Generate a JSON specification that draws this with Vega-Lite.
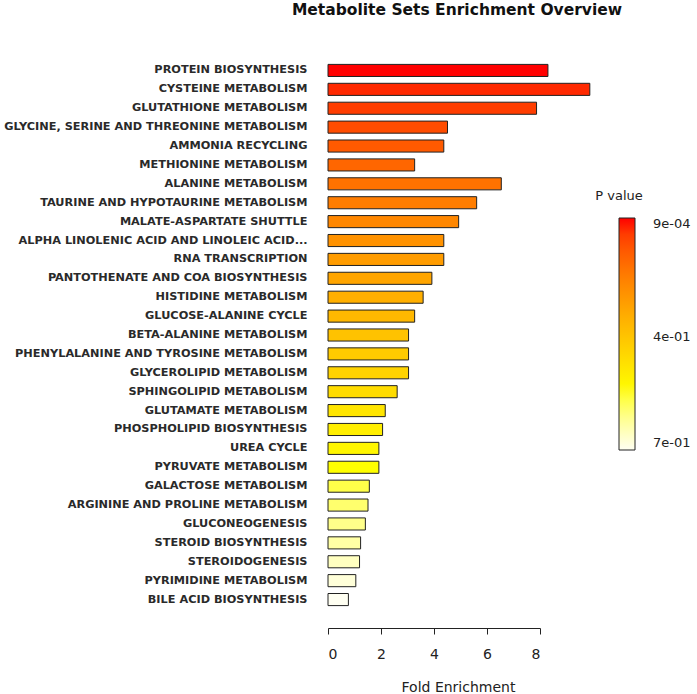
{
  "$schema": "https://vega.github.io/schema/vega-lite/v6.json",
  "autosize": {"type": "none"},
  "width": 212,
  "height": 548,
  "padding": {"left": 328, "top": 61, "right": 157, "bottom": 85},
  "background": "white",
  "title": {
    "text": "Metabolite Sets Enrichment Overview",
    "font": "DejaVu Sans",
    "fontSize": 15.5,
    "fontWeight": "bold",
    "color": "#111",
    "anchor": "middle",
    "dx": 23,
    "offset": 31,
    "baseline": "alphabetic"
  },
  "data": {
    "values": [
      {"set": "PROTEIN BIOSYNTHESIS", "fold": 8.30, "p": 0.0009},
      {"set": "CYSTEINE METABOLISM", "fold": 9.88, "p": 0.026},
      {"set": "GLUTATHIONE METABOLISM", "fold": 7.87, "p": 0.051},
      {"set": "GLYCINE, SERINE AND THREONINE METABOLISM", "fold": 4.51, "p": 0.076},
      {"set": "AMMONIA RECYCLING", "fold": 4.37, "p": 0.101},
      {"set": "METHIONINE METABOLISM", "fold": 3.27, "p": 0.126},
      {"set": "ALANINE METABOLISM", "fold": 6.54, "p": 0.151},
      {"set": "TAURINE AND HYPOTAURINE METABOLISM", "fold": 5.61, "p": 0.176},
      {"set": "MALATE-ASPARTATE SHUTTLE", "fold": 4.93, "p": 0.201},
      {"set": "ALPHA LINOLENIC ACID AND LINOLEIC ACID...", "fold": 4.37, "p": 0.226},
      {"set": "RNA TRANSCRIPTION", "fold": 4.37, "p": 0.251},
      {"set": "PANTOTHENATE AND COA BIOSYNTHESIS", "fold": 3.92, "p": 0.276},
      {"set": "HISTIDINE METABOLISM", "fold": 3.59, "p": 0.301},
      {"set": "GLUCOSE-ALANINE CYCLE", "fold": 3.27, "p": 0.326},
      {"set": "BETA-ALANINE METABOLISM", "fold": 3.04, "p": 0.351},
      {"set": "PHENYLALANINE AND TYROSINE METABOLISM", "fold": 3.04, "p": 0.376},
      {"set": "GLYCEROLIPID METABOLISM", "fold": 3.04, "p": 0.400},
      {"set": "SPHINGOLIPID METABOLISM", "fold": 2.61, "p": 0.425},
      {"set": "GLUTAMATE METABOLISM", "fold": 2.16, "p": 0.450},
      {"set": "PHOSPHOLIPID BIOSYNTHESIS", "fold": 2.06, "p": 0.475},
      {"set": "UREA CYCLE", "fold": 1.92, "p": 0.500},
      {"set": "PYRUVATE METABOLISM", "fold": 1.92, "p": 0.525},
      {"set": "GALACTOSE METABOLISM", "fold": 1.56, "p": 0.550},
      {"set": "ARGININE AND PROLINE METABOLISM", "fold": 1.51, "p": 0.575},
      {"set": "GLUCONEOGENESIS", "fold": 1.41, "p": 0.600},
      {"set": "STEROID BIOSYNTHESIS", "fold": 1.23, "p": 0.625},
      {"set": "STEROIDOGENESIS", "fold": 1.19, "p": 0.650},
      {"set": "PYRIMIDINE METABOLISM", "fold": 1.05, "p": 0.675},
      {"set": "BILE ACID BIOSYNTHESIS", "fold": 0.77, "p": 0.700}
    ]
  },
  "mark": {"type": "bar", "stroke": "#222", "strokeWidth": 1, "clip": false},
  "encoding": {
    "y": {
      "field": "set",
      "type": "nominal",
      "sort": null,
      "scale": {"paddingInner": 0.36, "paddingOuter": 0.18},
      "axis": {
        "title": null,
        "ticks": false,
        "domain": false,
        "labelPadding": 21,
        "labelFont": "DejaVu Sans",
        "labelFontWeight": "bold",
        "labelFontSize": 11.3,
        "labelColor": "#2a2a2a",
        "labelLimit": 400
      }
    },
    "x": {
      "field": "fold",
      "type": "quantitative",
      "scale": {"domain": [0, 8], "nice": false, "clamp": false},
      "axis": {
        "title": "Fold Enrichment",
        "values": [0, 2, 4, 6, 8],
        "grid": false,
        "offset": 19,
        "tickSize": 6,
        "tickColor": "#222",
        "domainColor": "#222",
        "labelPadding": 13,
        "labelFont": "DejaVu Sans",
        "labelFontSize": 14,
        "labelColor": "#222",
        "titleFont": "DejaVu Sans",
        "titleFontSize": 14,
        "titleFontWeight": "normal",
        "titleColor": "#222",
        "titleX": 130,
        "titleY": 63,
        "titleBaseline": "alphabetic"
      }
    },
    "color": {
      "field": "p",
      "type": "quantitative",
      "scale": {
        "domain": [0.7, 0.525, 0.0009],
        "range": ["#FFFFF2", "#FFFF00", "#FF0000"],
        "clamp": true
      },
      "legend": {
        "title": "P value",
        "orient": "none",
        "legendX": 267,
        "legendY": 129,
        "direction": "vertical",
        "gradientLength": 232,
        "gradientThickness": 16,
        "gradientStrokeColor": "#222",
        "gradientStrokeWidth": 1,
        "values": [0.0009, 0.36, 0.7],
        "labelExpr": "replace(format(datum.value, '.0e'), 'e-', 'e-0')",
        "labelOverlap": false,
        "labelOffset": 18,
        "labelFont": "DejaVu Sans",
        "labelFontSize": 13,
        "labelColor": "#222",
        "labelBaseline": "middle",
        "titleFont": "DejaVu Sans",
        "titleFontSize": 13,
        "titleFontWeight": "normal",
        "titleColor": "#222",
        "titleAnchor": "start",
        "titleAlign": "center",
        "titlePadding": 15
      }
    }
  },
  "config": {"view": {"stroke": null}}
}
